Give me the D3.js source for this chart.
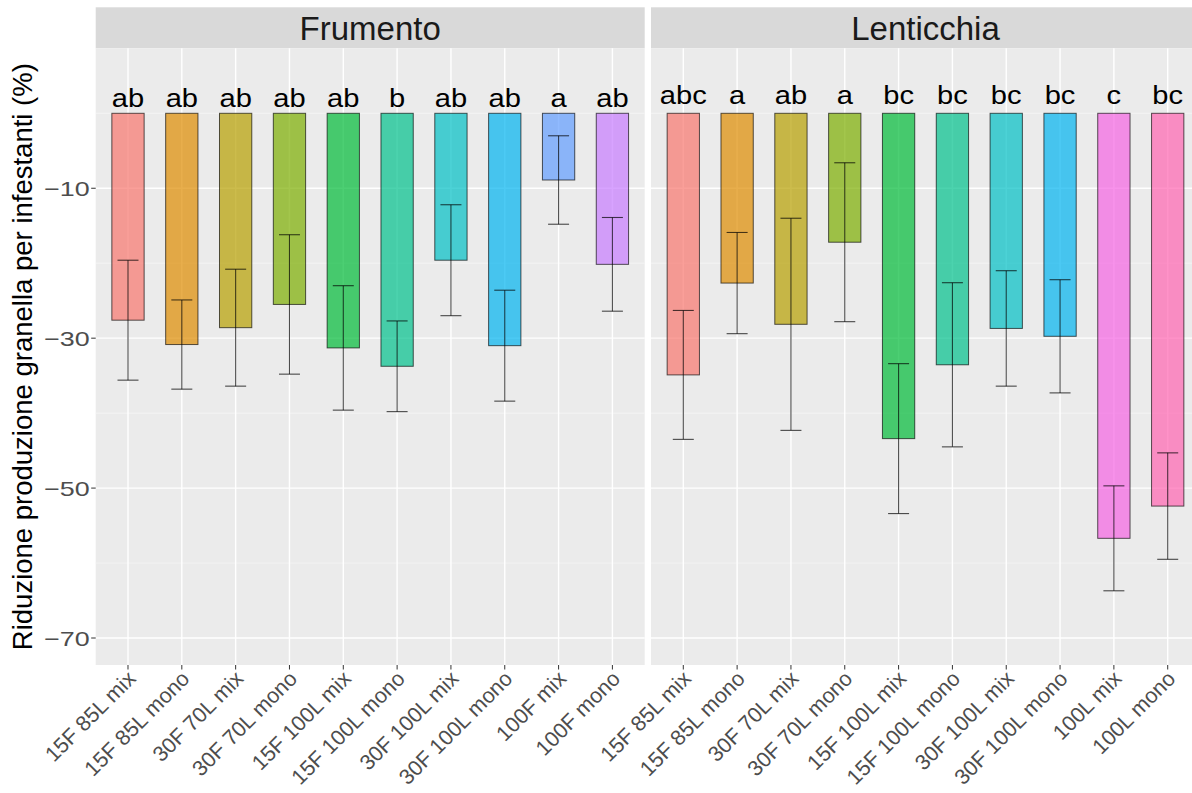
<!DOCTYPE html>
<html>
<head>
<meta charset="utf-8">
<script src="https://cdn.jsdelivr.net/npm/d3@7"></script>
<style>
  body { margin: 0; background: #fff; }
  text { font-family: "Liberation Sans", Arial, Helvetica, sans-serif; }
</style>
</head>
<body>
<script>
// treatment levels (fill colour order, ggplot hue palette)
var levels = ["15F 85L mix", "15F 85L mono", "30F 70L mix", "30F 70L mono",
              "15F 100L mix", "15F 100L mono", "30F 100L mix", "30F 100L mono",
              "100F mix", "100F mono", "100L mix", "100L mono"];
var levelColors = ["#F8766D", "#DE8C00", "#B79F00", "#7CAE00", "#00BA38", "#00C08B",
                   "#00BFC4", "#00B4F0", "#619CFF", "#C77CFF", "#F564E3", "#FF64B0"];

// Frumento
var catsF = ["15F 85L mix", "15F 85L mono", "30F 70L mix", "30F 70L mono", "15F 100L mix",
             "15F 100L mono", "30F 100L mix", "30F 100L mono", "100F mix", "100F mono"];
var meanF = [-27.6, -30.85, -28.6, -25.5, -31.3, -33.75, -19.6, -31.0, -8.9, -20.15];
var seF   = [8.0, 5.95, 7.8, 9.3, 8.3, 6.05, 7.4, 7.4, 5.9, 6.25];
var letF  = ["ab", "ab", "ab", "ab", "ab", "b", "ab", "ab", "a", "ab"];

// Lenticchia
var catsL = ["15F 85L mix", "15F 85L mono", "30F 70L mix", "30F 70L mono", "15F 100L mix",
             "15F 100L mono", "30F 100L mix", "30F 100L mono", "100L mix", "100L mono"];
var meanL = [-34.9, -22.65, -28.15, -17.2, -43.4, -33.55, -28.7, -29.75, -56.7, -52.4];
var seL   = [8.6, 6.75, 14.15, 10.6, 10.0, 10.95, 7.7, 7.55, 7.0, 7.1];
var letL  = ["abc", "a", "ab", "a", "bc", "bc", "bc", "bc", "c", "bc"];

var facets = ["Frumento", "Lenticchia"];
var yBreaks = [-10, -30, -50, -70];
var yMinor = [0, -20, -40, -60];

var W = 1192, H = 793;
var svg = d3.select("body").append("svg").attr("width", W).attr("height", H);

var panelTop = 48.3, panelBottom = 665, stripTop = 7.3;
var panelW = 549, panelX = [95.7, 651];

var y = d3.scaleLinear().domain([-73.6, 8.67]).range([panelBottom, panelTop]);
var color = d3.scaleOrdinal().domain(levels).range(levelColors);

var panels = [
  {name: facets[0], cats: catsF, mean: meanF, se: seF, lets: letF, labOff: 6},
  {name: facets[1], cats: catsL, mean: meanL, se: seL, lets: letL, labOff: 9.5}
];

panels.forEach(function(p, i) {
  var x0 = panelX[i];
  // discrete scale, 0.6 expansion on both sides
  var x = d3.scalePoint().domain(p.cats).range([x0, x0 + panelW]).padding(0.6);
  var barW = x.step() * 0.6;

  var g = svg.append("g");

  // strip
  g.append("rect").attr("x", x0).attr("y", stripTop)
    .attr("width", panelW).attr("height", panelTop - stripTop).attr("fill", "#D9D9D9");
  g.append("text").attr("x", x0 + panelW / 2).attr("y", (stripTop + panelTop) / 2)
    .attr("dy", "0.36em").attr("text-anchor", "middle")
    .style("font-size", "33px").attr("fill", "#1A1A1A").text(p.name);

  // panel bg
  g.append("rect").attr("x", x0).attr("y", panelTop)
    .attr("width", panelW).attr("height", panelBottom - panelTop).attr("fill", "#EBEBEB");

  // grid
  g.selectAll(".minor").data(yMinor).enter().append("line")
    .attr("x1", x0).attr("x2", x0 + panelW)
    .attr("y1", function(d) { return y(d); }).attr("y2", function(d) { return y(d); })
    .attr("stroke", "#F7F7F7").attr("stroke-width", 0.7);
  g.selectAll(".major").data(yBreaks).enter().append("line")
    .attr("x1", x0).attr("x2", x0 + panelW)
    .attr("y1", function(d) { return y(d); }).attr("y2", function(d) { return y(d); })
    .attr("stroke", "#fff").attr("stroke-width", 1.4);
  g.selectAll(".vgrid").data(p.cats).enter().append("line")
    .attr("x1", function(d) { return x(d); }).attr("x2", function(d) { return x(d); })
    .attr("y1", panelTop).attr("y2", panelBottom)
    .attr("stroke", "#fff").attr("stroke-width", 1.4);

  var data = p.cats.map(function(c, k) {
    return {cat: c, mean: p.mean[k], se: p.se[k], lab: p.lets[k]};
  });

  // bars
  g.selectAll(".bar").data(data).enter().append("rect")
    .attr("x", function(d) { return x(d.cat) - barW / 2; })
    .attr("width", barW)
    .attr("y", function(d) { return y(Math.max(0, d.mean)); })
    .attr("height", function(d) { return Math.abs(y(d.mean) - y(0)); })
    .attr("fill", function(d) { return color(d.cat); })
    .attr("fill-opacity", 0.7)
    .attr("stroke", "#000").attr("stroke-opacity", 0.65).attr("stroke-width", 1);

  // error bars
  var capW = 21;
  var eb = g.selectAll(".eb").data(data).enter().append("g")
    .attr("stroke", "#000").attr("stroke-opacity", 0.7).attr("stroke-width", 1.1);
  eb.append("line")
    .attr("x1", function(d) { return x(d.cat); }).attr("x2", function(d) { return x(d.cat); })
    .attr("y1", function(d) { return y(d.mean + d.se); })
    .attr("y2", function(d) { return y(d.mean - d.se); });
  eb.append("line")
    .attr("x1", function(d) { return x(d.cat) - capW / 2; })
    .attr("x2", function(d) { return x(d.cat) + capW / 2; })
    .attr("y1", function(d) { return y(d.mean + d.se); })
    .attr("y2", function(d) { return y(d.mean + d.se); });
  eb.append("line")
    .attr("x1", function(d) { return x(d.cat) - capW / 2; })
    .attr("x2", function(d) { return x(d.cat) + capW / 2; })
    .attr("y1", function(d) { return y(d.mean - d.se); })
    .attr("y2", function(d) { return y(d.mean - d.se); });

  // letters
  g.selectAll(".lab").data(data).enter().append("text")
    .attr("transform", function(d) {
      return "translate(" + x(d.cat) + "," + (y(0) - p.labOff) + ") scale(1.12,1)";
    })
    .attr("text-anchor", "middle")
    .style("font-size", "26px").attr("fill", "#000")
    .text(function(d) { return d.lab; });

  // x ticks + labels
  g.selectAll(".xt").data(p.cats).enter().append("line")
    .attr("x1", function(d) { return x(d); }).attr("x2", function(d) { return x(d); })
    .attr("y1", panelBottom).attr("y2", panelBottom + 4.5)
    .attr("stroke", "#333").attr("stroke-width", 1);
  g.selectAll(".xl").data(p.cats).enter().append("text")
    .attr("transform", function(d) {
      return "translate(" + (x(d) + 9) + "," + (panelBottom + 15) + ") rotate(-45)";
    })
    .attr("text-anchor", "end")
    .style("font-size", "21.5px").attr("fill", "#4D4D4D")
    .text(function(d) { return d; });
});

// y axis
var ya = svg.append("g");
ya.selectAll("line").data(yBreaks).enter().append("line")
  .attr("x1", panelX[0] - 4.5).attr("x2", panelX[0])
  .attr("y1", function(d) { return y(d); }).attr("y2", function(d) { return y(d); })
  .attr("stroke", "#333").attr("stroke-width", 1);
ya.selectAll("text").data(yBreaks).enter().append("text")
  .attr("transform", function(d) { return "translate(" + (panelX[0] - 6) + "," + y(d) + ") scale(1.28,1)"; })
  .attr("dy", "0.36em").attr("text-anchor", "end")
  .style("font-size", "21px").attr("fill", "#4D4D4D")
  .text(function(d) { return d3.format("")(d).replace("-", "\u2212"); });

svg.append("text")
  .attr("transform", "translate(32," + ((panelTop + panelBottom) / 2) + ") rotate(-90)")
  .attr("text-anchor", "middle")
  .style("font-size", "27.5px").attr("fill", "#000")
  .text("Riduzione produzione granella per infestanti (%)");
</script>
</body>
</html>
